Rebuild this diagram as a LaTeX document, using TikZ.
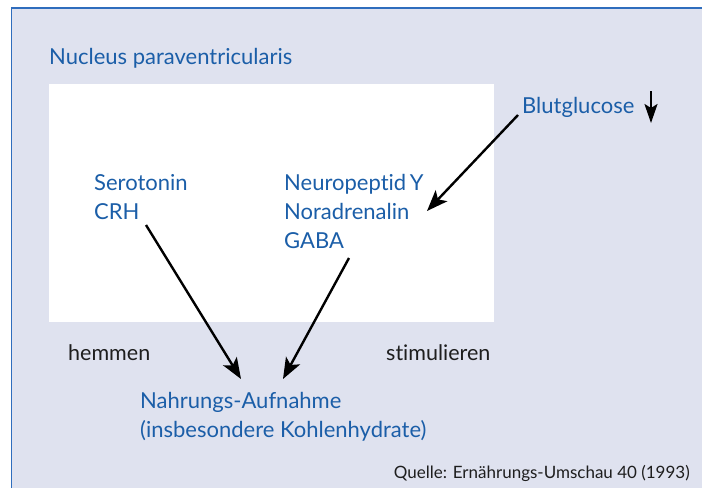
\documentclass[tikz,border=0pt]{standalone}
\usepackage{fontspec}
\setmainfont{Lato}[Ligatures={NoCommon}]
\usetikzlibrary{arrows.meta}
\definecolor{panelbg}{HTML}{DFE2EF}
\definecolor{frameblue}{HTML}{2F6DBD}
\definecolor{textblue}{HTML}{1B5EA8}
\definecolor{textdark}{HTML}{1E1E1E}
\tikzset{
  bluetxt/.style={anchor=base west, inner sep=0pt, text=textblue, font=\fontsize{22}{26}\selectfont},
  darktxt/.style={anchor=base west, inner sep=0pt, text=textdark, font=\fontsize{21.5}{26}\selectfont},
  srctxt/.style={anchor=base east, inner sep=0pt, text=textdark, font=\fontsize{17}{20}\selectfont},
  arr/.style={line width=2.4pt, draw=black, -{Stealth[length=21pt,width=16pt,inset=5pt]}},
}
\begin{document}
\begin{tikzpicture}[x=1pt,y=-1pt]
\useasboundingbox (0,0) rectangle (702,488);
\fill[white] (0,0) rectangle (702,488);
\fill[panelbg] (11.5,8) rectangle (702,488);
\draw[frameblue, line width=1.6pt] (11.5,488) -- (11.5,8) -- (702,8);
\fill[white] (49,84) rectangle (494,322);

\node[bluetxt] (nucleus) at (49,64) {Nucleus paraventricularis};
\node[bluetxt] (blut) at (522,113) {Blutglucose};
\node[bluetxt] (sero) at (94,190) {Serotonin};
\node[bluetxt] (crh) at (94,219) {CRH};
\node[bluetxt] (npy) at (284,190) {Neuropeptid\,Y};
\node[bluetxt] (nor) at (284,219) {Noradrenalin};
\node[bluetxt] (gaba) at (284,248) {GABA};
\node[darktxt] (hemmen) at (68,360) {hemmen};
\node[darktxt] (stim) at (386,360) {stimulieren};
\node[bluetxt] (nahr) at (140,408) {Nahrungs-Aufnahme};
\node[bluetxt] (kohl) at (140,437) {(insbesondere Kohlenhydrate)};
\node[srctxt] (quelle) at (690,478) {Quelle: Ernährungs-Umschau 40 (1993)};

\coordinate (downTop) at (651,91);
\coordinate (downEnd) at (651,123);
\coordinate (blutStart) at (518,115);
\coordinate (norEnd) at (427,211);
\coordinate (crhStart) at (146,225);
\coordinate (nahrL) at (241,379);
\coordinate (gabaStart) at (349,258);
\coordinate (nahrR) at (283,379);

\draw[line width=2.2pt, -{Stealth[length=19pt,width=13pt,inset=4pt]}] (downTop) -- (downEnd);
\draw[arr] (blutStart) -- (norEnd);
\draw[arr] (crhStart) -- (nahrL);
\draw[arr] (gabaStart) -- (nahrR);
\end{tikzpicture}
\end{document}
